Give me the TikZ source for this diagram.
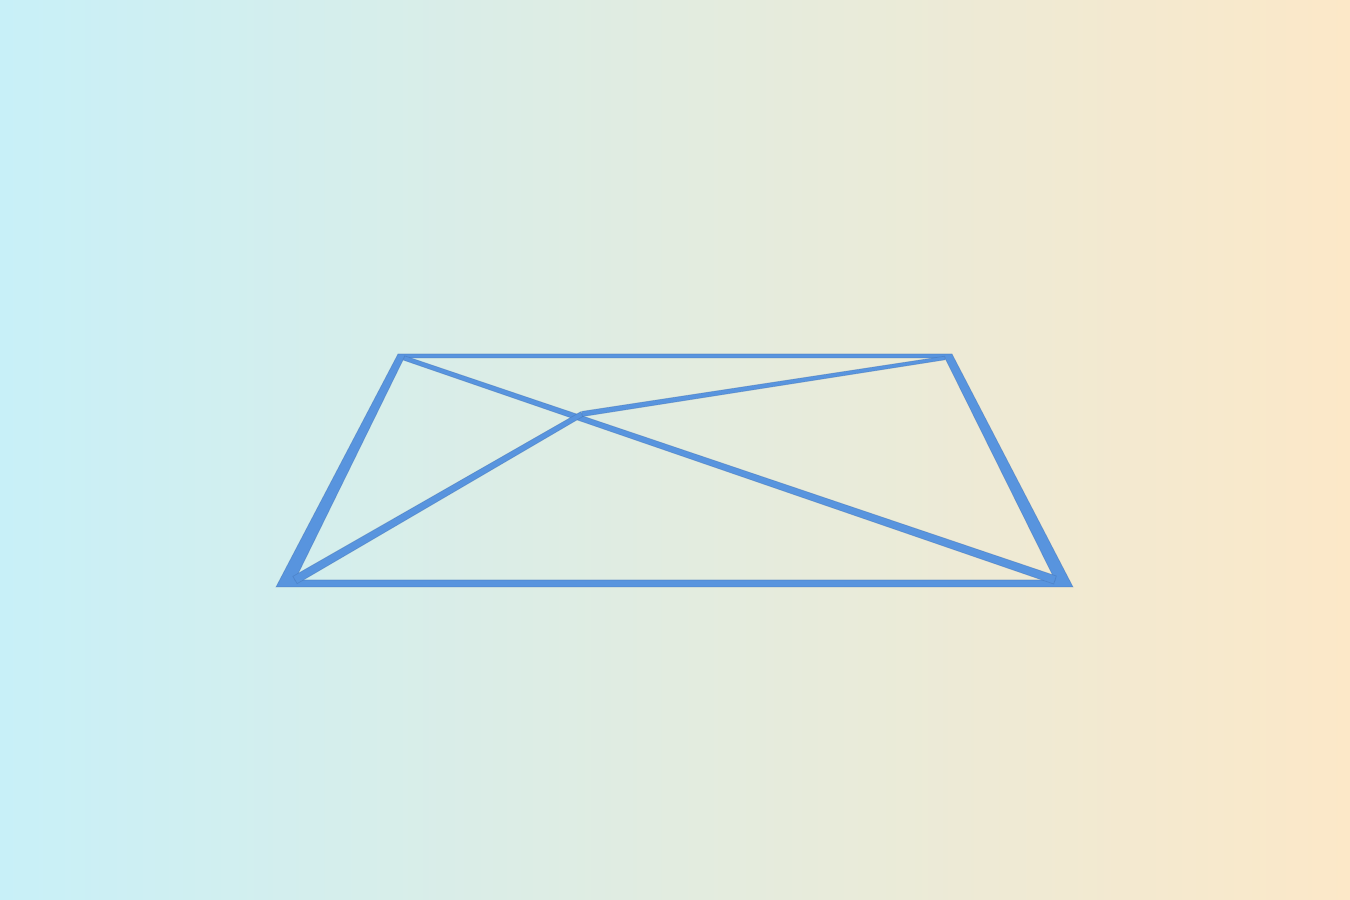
\documentclass[tikz,border=0pt]{standalone}
\usetikzlibrary{calc}
\definecolor{skyleft}{RGB}{200,240,248}
\definecolor{peachright}{RGB}{252,232,200}
\definecolor{beamblue}{RGB}{88,148,222}
\definecolor{beamedge}{RGB}{60,105,170}
\tikzset{beam/.style={fill=beamblue, draw=beamedge, draw opacity=0.35, line width=0.2pt}}
\newcommand{\beamseg}[4]{\filldraw[beam] ($(#1)!#3!90:(#2)$) -- ($(#1)!#3!-90:(#2)$) -- ($(#2)!#4!90:(#1)$) -- ($(#2)!#4!-90:(#1)$) -- cycle;}
\begin{document}
\begin{tikzpicture}
        \shade[left color=skyleft, right color=peachright] (0,0) rectangle (13.5,9);
        \useasboundingbox (0,0) rectangle (13.5,9);

        \coordinate (obl) at (2.76,3.13);
        \coordinate (obr) at (10.73,3.13);
        \coordinate (otr) at (9.52,5.46);
        \coordinate (otl) at (3.98,5.46);
        \coordinate (ibl) at (2.95,3.20);
        \coordinate (ibr) at (10.55,3.20);
        \coordinate (itr) at (9.45,5.42);
        \coordinate (itl) at (4.04,5.42);
        \coordinate (cross) at (5.82,4.86);

        % frame
        \filldraw[beam, even odd rule] (obl) -- (obr) -- (otr) -- (otl) -- cycle
            (ibl) -- (ibr) -- (itr) -- (itl) -- cycle;

        % inner beams
        \beamseg{itl}{ibr}{0.022cm}{0.042cm}
        \beamseg{ibl}{cross}{0.042cm}{0.026cm}
        \beamseg{cross}{itr}{0.026cm}{0.018cm}
    \end{tikzpicture}
\end{document}
